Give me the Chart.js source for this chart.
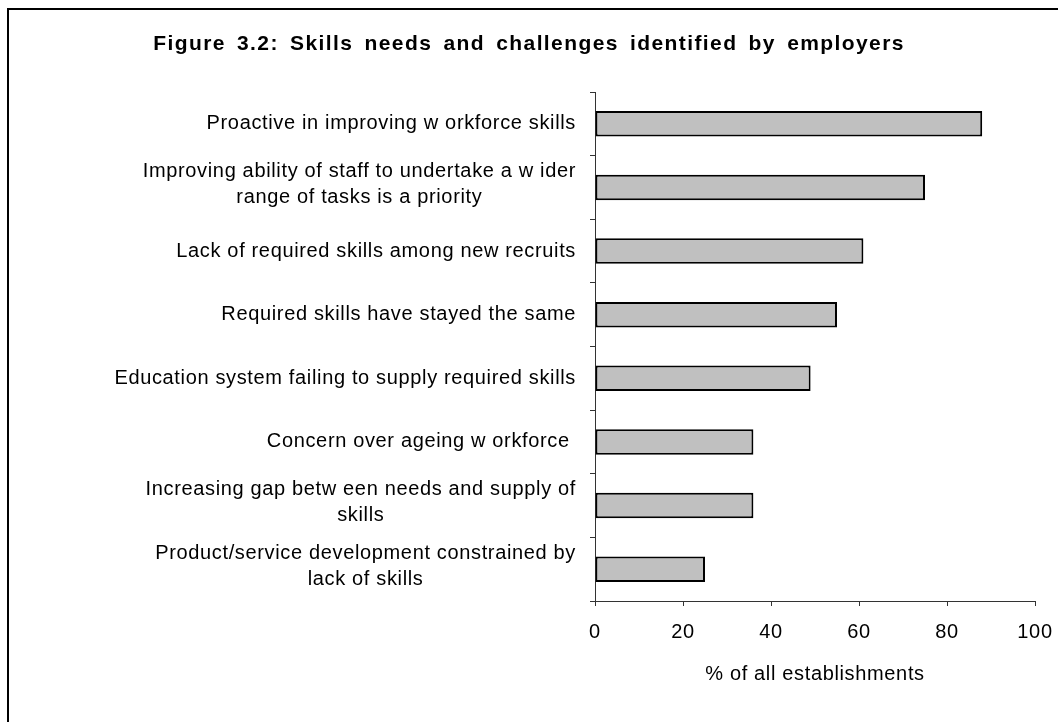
<!DOCTYPE html>
<html>
<head>
<meta charset="utf-8">
<script src="https://cdn.jsdelivr.net/npm/chart.js@4/dist/chart.umd.min.js"></script>
<style>
  html, body { margin: 0; padding: 0; background: #fff; }
</style>
</head>
<body>
<canvas id="skillsChart" width="1058" height="722"></canvas>
<script>
const titleText = 'Figure 3.2: Skills needs and challenges identified by employers';
const categories = [
  'Proactive in improving w orkforce skills',
  ['Improving ability of staff to undertake a w ider', 'range of tasks is a priority'],
  'Lack of required skills among new recruits',
  'Required skills have stayed the same',
  'Education system failing to supply required skills',
  'Concern over ageing w orkforce ',
  ['Increasing gap betw een needs and supply of', 'skills'],
  ['Product/service development constrained by', 'lack of skills']
];
const values = [88, 75, 61, 55, 49, 36, 36, 25];
const xTickValues = [0, 20, 40, 60, 80, 100];

const FONT = '"Liberation Sans", Arial, sans-serif';
const LABEL_RIGHT = 576;
const LABEL_LINE = 26;

// white page, figure frame (only top/left edges fall inside the canvas), loose text spacing
const framePlugin = {
  id: 'frame',
  beforeDraw(chart) {
    const { ctx } = chart;
    ctx.save();
    ctx.fillStyle = '#fff';
    ctx.fillRect(0, 0, chart.width, chart.height);
    ctx.strokeStyle = '#000';
    ctx.lineWidth = 2;
    ctx.strokeRect(8, 9, chart.width + 40, chart.height + 40);
    ctx.restore();
    ctx.letterSpacing = '0.65px';
  }
};

// title plus category labels: each label block right-aligned to the axis, lines centred inside it
const textPlugin = {
  id: 'texts',
  afterDraw(chart) {
    const { ctx } = chart;
    const yScale = chart.scales.y;
    ctx.save();
    ctx.fillStyle = '#000';
    ctx.textBaseline = 'middle';
    ctx.textAlign = 'center';

    ctx.letterSpacing = '1.4px';
    ctx.wordSpacing = '4px';
    ctx.font = 'bold 21px ' + FONT;
    ctx.fillText(titleText, 529, 44);
    ctx.wordSpacing = '0px';

    ctx.letterSpacing = '0.65px';
    ctx.font = '20px ' + FONT;
    categories.forEach((label, i) => {
      const lines = Array.isArray(label) ? label : [label];
      const widest = Math.max(...lines.map(l => ctx.measureText(l).width));
      const cx = LABEL_RIGHT - widest / 2;
      const cy = yScale.getPixelForValue(i) - (lines.length > 1 ? 3 : 0);
      lines.forEach((line, j) => {
        ctx.fillText(line, cx, cy + (j - (lines.length - 1) / 2) * LABEL_LINE);
      });
    });
    ctx.restore();
    ctx.letterSpacing = '0px';
  }
};

new Chart(document.getElementById('skillsChart'), {
  type: 'bar',
  data: {
    labels: categories,
    datasets: [{
      data: values,
      backgroundColor: '#c0c0c0',
      borderColor: '#000',
      borderWidth: 2,
      borderSkipped: false,
      barPercentage: 0.4,
      categoryPercentage: 1
    }]
  },
  options: {
    indexAxis: 'y',
    responsive: false,
    animation: false,
    devicePixelRatio: 1,
    layout: { padding: { left: 20, right: 23, top: 92, bottom: 0 } },
    plugins: {
      legend: { display: false },
      tooltip: { enabled: false },
      title: { display: false }
    },
    scales: {
      x: {
        min: 0,
        max: 100,
        afterBuildTicks: (scale) => {
          scale.ticks = xTickValues.map(v => ({ value: v }));
        },
        afterFit: (scale) => {
          scale.height = 121;
          // the "100" label fits in the right padding, no extra room needed
          scale.paddingLeft = 0;
          scale.paddingRight = 0;
        },
        grid: { drawOnChartArea: false, drawTicks: true, tickLength: 5, color: '#333' },
        border: { display: true, color: '#333', width: 1 },
        ticks: {
          color: '#000',
          padding: 14,
          font: { family: FONT, size: 20 }
        },
        title: {
          display: true,
          text: '% of all establishments',
          color: '#000',
          font: { family: FONT, size: 20 },
          padding: { top: 0, bottom: 36 }
        }
      },
      y: {
        afterFit: (scale) => { scale.width = 575; },
        grid: { drawOnChartArea: false, drawTicks: true, tickLength: 5, color: '#333', offset: true },
        border: { display: true, color: '#333', width: 1 },
        ticks: { display: false }
      }
    }
  },
  plugins: [framePlugin, textPlugin]
});
</script>
</body>
</html>
